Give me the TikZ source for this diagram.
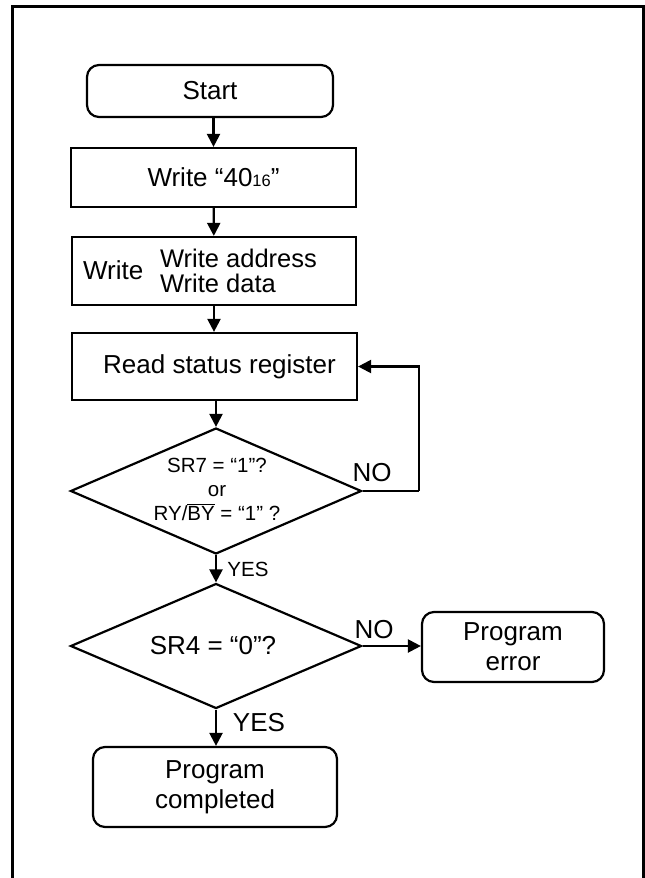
\documentclass[tikz,border=0pt]{standalone}
\usepackage{fontspec}
\setmainfont{Liberation Sans}
\usetikzlibrary{arrows.meta,shapes.geometric}

\begin{document}
\begin{tikzpicture}[
			x=1pt, y=-1pt,
			line width=2.2pt,
			box/.style={
				rectangle,
				draw,
				minimum width=285pt,
				inner sep=0pt,
				align=center
			},
			rbox/.style={
				box,
				rounded corners=12pt
			},
			decision/.style={
				diamond,
				draw,
				minimum width=291pt,
				minimum height=126pt,
				inner sep=0pt
			},
			arr/.style={
				-{Triangle[length=13pt,width=13pt]}
			},
			big/.style={font=\fontsize{26}{30}\selectfont},
			small/.style={font=\fontsize{20.5}{24}\selectfont}
			]

			\useasboundingbox (0,0) rectangle (645,878);

			% Frame
			\draw[line width=3pt] (12,878) -- (12,6) -- (643.5,6) -- (643.5,878);

			% Boxes
			\node[rbox, big, minimum width=246pt, minimum height=52pt] (start) at (210,91) {Start};
			\node[box, big, minimum height=59pt] (w40) at (213.5,177.5)
			{Write “40{\fontsize{16.5}{16.5}\selectfont 16}”};
			\node[box, minimum width=284pt, minimum height=68pt] (wdata) at (214,271) {};
			\node[big, anchor=west, inner sep=0pt] (wlbl) at (82,270) {Write};
			\node[font=\fontsize{25.5}{30}\selectfont, anchor=west, inner sep=0pt]
			(wadr) at (159,258) {Write address};
			\node[font=\fontsize{25.5}{30}\selectfont, anchor=west, inner sep=0pt]
			(wdat) at (159,283) {Write data};
			\node[box, big, minimum height=67pt] (rsr) at (214.5,366.5)
			{\hspace{10pt}Read status register};

			% Decisions
			\node[decision] (d1) at (216,491) {};
			\node[small, align=center, inner sep=0pt] (d1txt) at (217,489)
			{SR7 = “1”?\\or\\RY/$\overline{\mbox{BY}}$ = “1” ?};
			\node[decision, minimum height=125pt] (d2) at (216,646) {};
			\node[big, inner sep=0pt] (d2txt) at (213,646) {SR4 = “0”?};

			% Ends
			\node[rbox, big, minimum width=182pt, minimum height=70pt] (perr) at (513,647)
			{Program\\error};
			\node[rbox, big, minimum width=244pt, minimum height=80pt] (pdone) at (215,787)
			{Program\\completed};

			% Connections
			\coordinate (loop) at (419,491);
			\draw[arr] (start.south -| w40.north) -- (w40.north);
			\draw[arr] (w40) -- (wdata);
			\draw[arr] (wdata.south) -- (rsr.north -| wdata.south);
			\draw[arr] (rsr.south -| d1.north) -- (d1.north);
			\draw (d1.east) -- (loop);
			\draw[arr] (loop) |- (rsr.east);
			\draw[arr] (d1.south) -- (d2.north);
			\draw[arr] (d2.east) -- (d2.east -| perr.west);
			\draw[arr] (d2.south) -- (pdone.north -| d2.south);

			% Labels
			\node[big, inner sep=0pt] (no1) at (372,473) {NO};
			\node[small, inner sep=0pt] (yes1) at (248,569) {YES};
			\node[big, inner sep=0pt] (no2) at (374,630) {NO};
			\node[big, inner sep=0pt] (yes2) at (259,723) {YES};

		\end{tikzpicture}
\end{document}
